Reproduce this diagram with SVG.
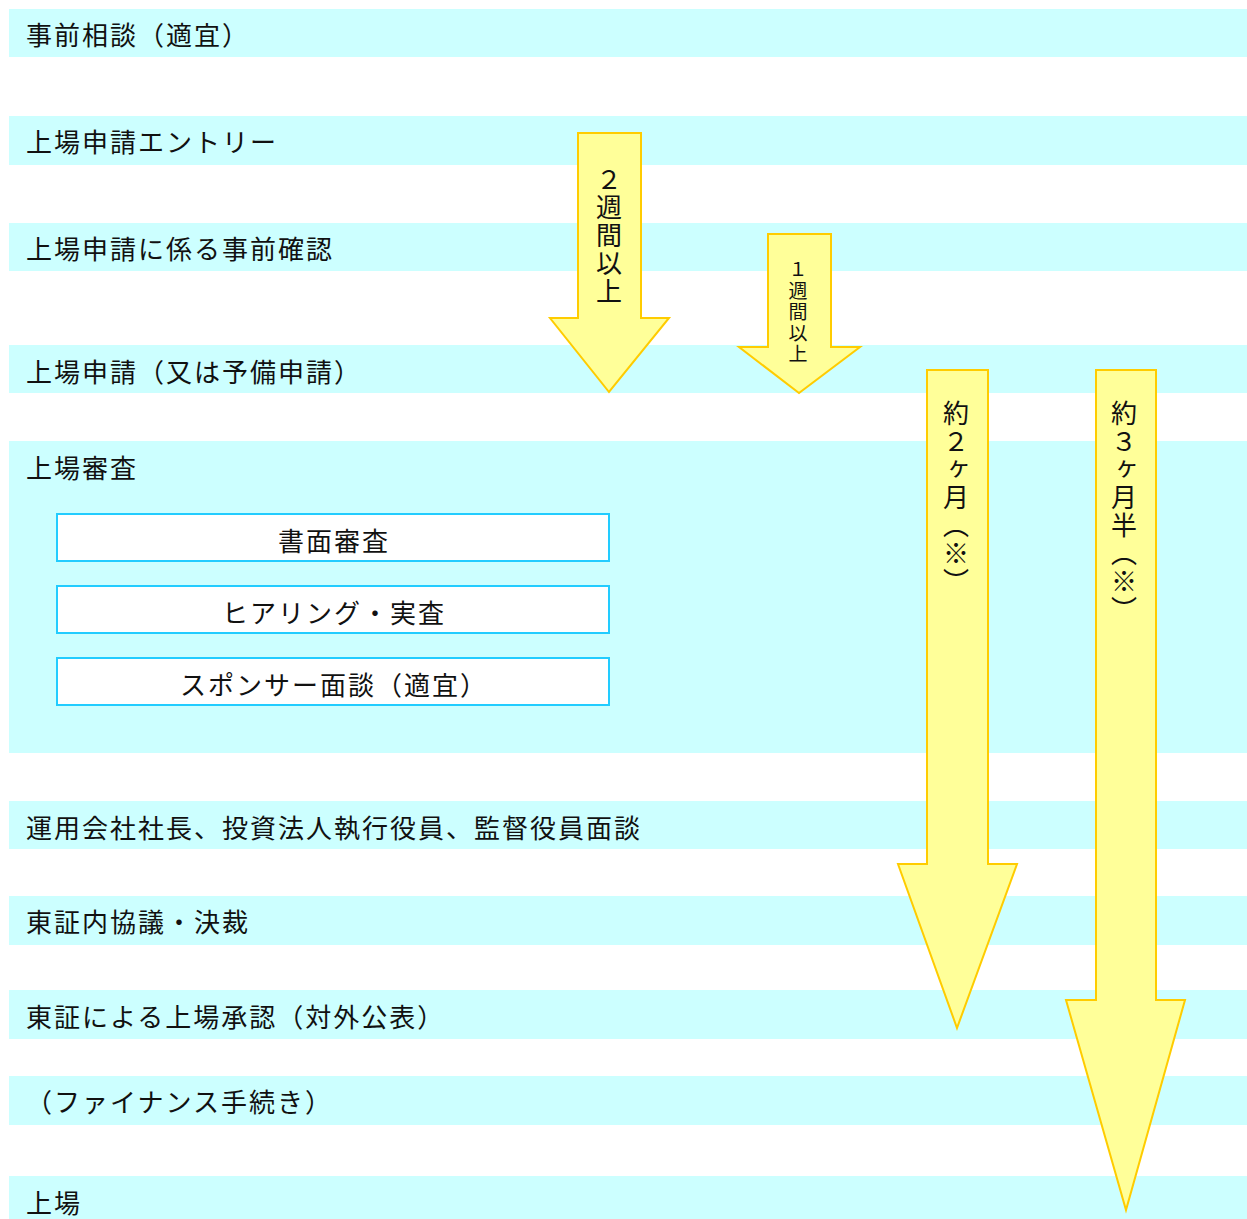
<svg xmlns="http://www.w3.org/2000/svg" width="1247" height="1219" viewBox="0 0 1247 1219">
<style>
.band{fill:#ccffff}
.lbl{font-family:"Noto Sans CJK JP","Liberation Serif",serif;font-size:26px;letter-spacing:2px;fill:#111}
.box{fill:#ffffff;stroke:#22ccff;stroke-width:2}
.arrow{fill:#ffff99;stroke:#ffcc00;stroke-width:2}
.vt{font-family:"Noto Sans CJK JP","Liberation Serif",serif;font-size:26px;letter-spacing:2px;fill:#111;writing-mode:vertical-rl}
</style>
<rect width="1247" height="1219" fill="#ffffff"/>
<g id="stage1"><rect class="band" x="9" y="9" width="1238" height="48"/><text class="lbl" x="26" y="45">事前相談（適宜）</text></g>
<g id="stage2"><rect class="band" x="9" y="116" width="1238" height="49"/><text class="lbl" x="26" y="152">上場申請エントリー</text></g>
<g id="stage3"><rect class="band" x="9" y="223" width="1238" height="48"/><text class="lbl" x="26" y="259">上場申請に係る事前確認</text></g>
<g id="stage4"><rect class="band" x="9" y="345" width="1238" height="48"/><text class="lbl" x="26" y="382">上場申請（又は予備申請）</text></g>
<g id="stage5"><rect class="band" x="9" y="441" width="1238" height="312"/><text class="lbl" x="26" y="478">上場審査</text></g>
<g id="review1"><rect class="box" x="57" y="514" width="552" height="47"/><text class="lbl" x="334" y="551" text-anchor="middle">書面審査</text></g>
<g id="review2"><rect class="box" x="57" y="586" width="552" height="47"/><text class="lbl" x="334" y="623" text-anchor="middle">ヒアリング・実査</text></g>
<g id="review3"><rect class="box" x="57" y="658" width="552" height="47"/><text class="lbl" x="334" y="695" text-anchor="middle">スポンサー面談（適宜）</text></g>
<g id="stage6"><rect class="band" x="9" y="801" width="1238" height="48"/><text class="lbl" x="26" y="838">運用会社社長、投資法人執行役員、監督役員面談</text></g>
<g id="stage7"><rect class="band" x="9" y="896" width="1238" height="49"/><text class="lbl" x="26" y="932">東証内協議・決裁</text></g>
<g id="stage8"><rect class="band" x="9" y="990" width="1238" height="49"/><text class="lbl" x="26" y="1027">東証による上場承認（対外公表）</text></g>
<g id="stage9"><rect class="band" x="9" y="1076" width="1238" height="49"/><text class="lbl" x="26" y="1112">（ファイナンス手続き）</text></g>
<g id="stage10"><rect class="band" x="9" y="1176" width="1238" height="43"/><text class="lbl" x="26" y="1213">上場</text></g>
<g id="connectors">
<g id="arrow-2w"><polygon class="arrow" points="578,133 641,133 641,318 669,318 609,392 550,318 578,318"/><text class="vt" x="609" y="166">２週間以上</text></g>
<g id="arrow-1w"><polygon class="arrow" points="768,234 831,234 831,347 860,347 799,393 739,347 768,347"/><text class="vt" x="798" y="260" style="font-size:19px">１週間以上</text></g>
<g id="arrow-2m"><polygon class="arrow" points="927,370 988,370 988,864 1017,864 957,1028 898,864 927,864"/><text class="vt" x="956" y="400">約２ヶ月（※）</text></g>
<g id="arrow-3m"><polygon class="arrow" points="1096,370 1156,370 1156,1000 1185,1000 1126,1210 1066,1000 1096,1000"/><text class="vt" x="1124" y="400">約３ヶ月半（※）</text></g>
</g>
</svg>
